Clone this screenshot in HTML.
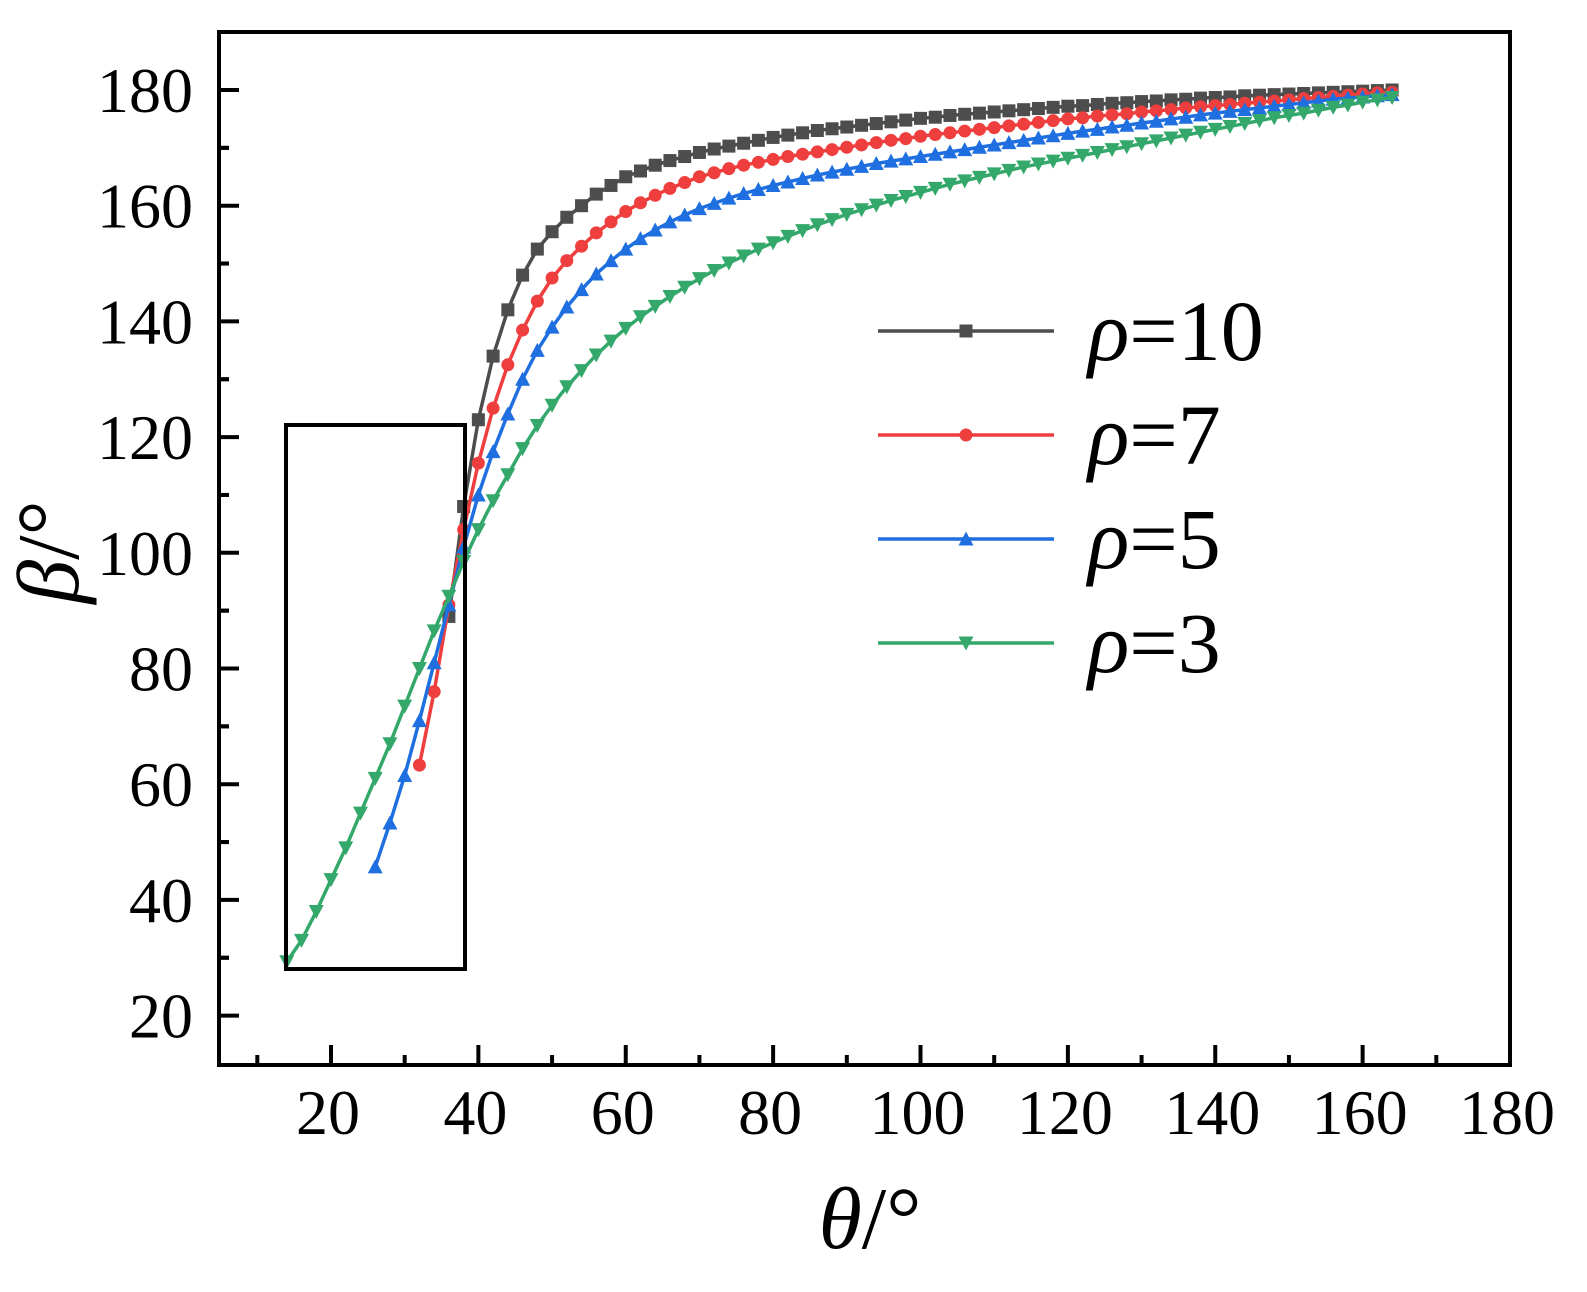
<!DOCTYPE html>
<html><head><meta charset="utf-8">
<style>
html,body{margin:0;padding:0;background:#fff;}
svg{display:block;}
text{font-family:"Liberation Serif",serif;fill:#000;}
</style></head>
<body>
<svg id="chart" width="1587" height="1292" viewBox="0 0 1587 1292" xmlns="http://www.w3.org/2000/svg">
<g id="plot"></g>
<rect x="219" y="32" width="1291" height="1033" fill="none" stroke="#000" stroke-width="4"/>
<rect x="286" y="425" width="179" height="544" fill="none" stroke="#000" stroke-width="4"/>
<g id="ticks"></g>
<text transform="translate(78,552) rotate(-90)" text-anchor="middle" font-size="88"><tspan font-style="italic">β</tspan>/°</text>
<text x="870" y="1248" text-anchor="middle" font-size="88"><tspan font-style="italic">θ</tspan>/°</text>
<g id="legend"></g>
</svg>
<script>
const xTicks=[20,40,60,80,100,120,140,160,180];
const yTicks=[20,40,60,80,100,120,140,160,180];
const seriesNames=["ρ=10","ρ=7","ρ=5","ρ=3"];
const seriesStart=[36,32,26,14];
const rho10=[89,108,123,134,142,148,152.5,155.5,158,160,162,163.5,165,166,167,167.8,168.5,169.2,169.8,170.3,170.8,171.3,171.8,172.2,172.6,173,173.3,173.6,173.9,174.2,174.5,174.8,175.1,175.3,175.6,175.8,176,176.2,176.4,176.6,176.8,177,177.2,177.3,177.5,177.7,177.8,178,178.1,178.3,178.4,178.6,178.7,178.8,179,179.1,179.2,179.3,179.4,179.5,179.6,179.7,179.8,179.9,180];
const rho7=[63.3,76,91,104,115.5,125,132.5,138.5,143.5,147.5,150.5,153,155.3,157.2,159,160.5,161.8,163,164,165,165.7,166.4,167,167.5,168,168.5,168.9,169.3,169.7,170.1,170.5,170.9,171.3,171.6,172,172.3,172.6,172.9,173.2,173.5,173.8,174.1,174.4,174.7,175,175.2,175.5,175.7,175.9,176.2,176.4,176.6,176.9,177.1,177.3,177.5,177.7,177.9,178.1,178.3,178.5,178.7,178.9,179.1,179.3,179.5,179.6];
const rho5=[45.7,53.3,61.5,71,81,91,101,110,117.5,124,130,135,139,142.5,145.5,148.2,150.5,152.5,154.3,155.8,157.2,158.4,159.5,160.4,161.3,162.1,162.8,163.5,164.1,164.7,165.3,165.8,166.3,166.8,167.3,167.7,168.1,168.5,168.9,169.3,169.7,170.1,170.5,170.9,171.3,171.7,172.1,172.5,172.9,173.2,173.6,173.9,174.3,174.6,175,175.3,175.7,176,176.3,176.6,176.9,177.2,177.5,177.8,178.1,178.4,178.6,178.8,179,179.2];
const rho3=[29.3,33,38,43.5,49,55,61,67,73.5,80,86.5,92.5,98.5,104,109,113.5,118,122,125.5,128.7,131.5,134.2,136.6,138.8,140.8,142.6,144.3,145.9,147.4,148.8,150.1,151.3,152.5,153.6,154.7,155.7,156.7,157.6,158.5,159.3,160.1,160.9,161.6,162.3,163,163.7,164.3,164.9,165.5,166.1,166.7,167.2,167.7,168.2,168.7,169.2,169.7,170.2,170.7,171.2,171.7,172.2,172.7,173.2,173.7,174.2,174.7,175.2,175.6,176,176.5,177,177.4,177.9,178.3,178.7];
const seriesValues=[rho10,rho7,rho5,rho3];
const colors=["#4d4d4d","#ef3e3e","#1f6fe0","#33a86a"];
const shapes=["square","circle","up","down"];
const NS="http://www.w3.org/2000/svg";
function sx(v){return 331+(v-20)*(1179/160);}
function sy(v){return 90+(180-v)*5.785;}
function mk(tag,attrs,parent){const e=document.createElementNS(NS,tag);for(const k in attrs)e.setAttribute(k,attrs[k]);parent.appendChild(e);return e;}
function marker(shape,cx,cy,col,parent){
  let e;const s=6.5;
  if(shape==="square")e=mk("rect",{x:cx-s,y:cy-s,width:2*s,height:2*s,fill:col},parent);
  else if(shape==="circle")e=mk("circle",{cx:cx,cy:cy,r:s,fill:col},parent);
  else if(shape==="up")e=mk("polygon",{points:`${cx},${cy-s-1} ${cx-s-1},${cy+s} ${cx+s+1},${cy+s}`,fill:col},parent);
  else e=mk("polygon",{points:`${cx},${cy+s+1} ${cx-s-1},${cy-s} ${cx+s+1},${cy-s}`,fill:col},parent);
  return e;
}
const plot=document.getElementById("plot");
seriesValues.forEach((vals,i)=>{
  const g=mk("g",{},plot);
  
  
  const pts=vals.map((v,j)=>[sx(seriesStart[i]+2*j),sy(v)]);
  const pl=mk("polyline",{points:pts.map(p=>p.join(",")).join(" "),fill:"none",stroke:colors[i],"stroke-width":3.5},g);
  
  
  pts.forEach(p=>{
    const m=marker(shapes[i],p[0],p[1],colors[i],g);
    
    
  });
});
const tk=document.getElementById("ticks");
xTicks.forEach(v=>{
  const x=sx(v);
  if(x<1505){const l=mk("line",{x1:x,x2:x,y1:1065,y2:1045,stroke:"#000","stroke-width":4},tk);
  
  }
  const m=sx(v-10);
  if(m>222){const l2=mk("line",{x1:m,x2:m,y1:1065,y2:1055,stroke:"#000","stroke-width":4},tk);
  
  }
  const t=mk("text",{x:x-3,y:1134,"text-anchor":"middle","font-size":64},tk);
  t.textContent=v;
  
  
});
yTicks.forEach(v=>{
  const y=sy(v);
  const l=mk("line",{x1:219,x2:239,y1:y,y2:y,stroke:"#000","stroke-width":4},tk);
  
  
  [v-10,v+10].forEach(mv=>{const my=sy(mv);if(my>35&&my<1062){const l2=mk("line",{x1:219,x2:229,y1:my,y2:my,stroke:"#000","stroke-width":4},tk);
  
  }});
  const t=mk("text",{x:193,y:y+22,"text-anchor":"end","font-size":64},tk);
  t.textContent=v;
  
  
});
const lg=document.getElementById("legend");
const legY=[331,435,539,643];
seriesNames.forEach((n,i)=>{
  const g=mk("g",{},lg);
  
  
  mk("line",{x1:878,x2:1054,y1:legY[i],y2:legY[i],stroke:colors[i],"stroke-width":3.5},g);
  marker(shapes[i],966,legY[i],colors[i],g);
  const t=mk("text",{x:1088,y:legY[i]+29,"font-size":86},g);
  const a=document.createElementNS(NS,"tspan");a.setAttribute("font-style","italic");a.textContent="ρ";t.appendChild(a);
  t.appendChild(document.createTextNode(n.slice(1)));
});
</script>
</body></html>
